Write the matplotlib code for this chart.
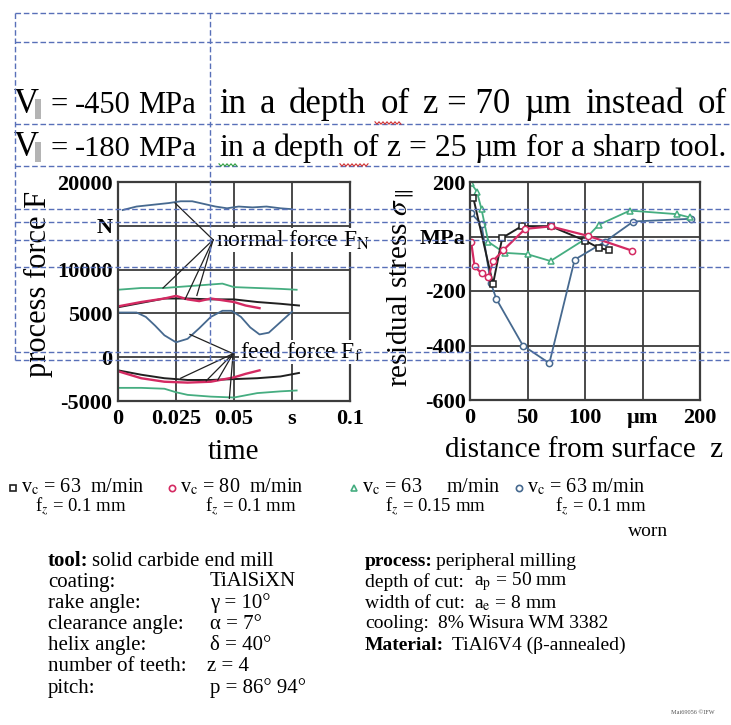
import numpy as np
import matplotlib
matplotlib.use('Agg')
import matplotlib.pyplot as plt
from matplotlib.patches import Rectangle

plt.rcParams['font.family'] = ['Liberation Serif', 'DejaVu Serif']
plt.rcParams['mathtext.fontset'] = 'stix'

# ---- process force over time (left chart), time in s, force in N
t_worn_fn = [0.002, 0.008, 0.015, 0.022, 0.027, 0.032, 0.037, 0.042, 0.047, 0.052, 0.058, 0.064, 0.070, 0.075]
f_worn_fn = [16800, 17200, 17400, 17600, 17800, 17800, 17500, 17200, 17000, 17200, 17100, 17200, 17000, 16900]
t_worn_ff = [0.0, 0.008, 0.012, 0.016, 0.020, 0.025, 0.030, 0.035, 0.040, 0.045, 0.049, 0.053, 0.057, 0.061, 0.065, 0.070, 0.075]
f_worn_ff = [5100, 5100, 4600, 3600, 2500, 1700, 2100, 3300, 4600, 5300, 5300, 4600, 3400, 2600, 2800, 4000, 5200]
t_green_fn = [0.0, 0.01, 0.02, 0.03, 0.04, 0.045, 0.05, 0.06, 0.07, 0.077]
f_green_fn = [7700, 7900, 7900, 8100, 8300, 8400, 8000, 7900, 7800, 7700]
t_red_fn = [0.0, 0.01, 0.02, 0.025, 0.03, 0.035, 0.04, 0.045, 0.05, 0.055, 0.061]
f_red_fn = [5800, 6300, 6700, 7000, 6600, 6400, 6700, 6500, 6300, 5900, 5600]
t_black_fn = [0.0, 0.01, 0.02, 0.03, 0.04, 0.05, 0.06, 0.07, 0.078]
f_black_fn = [5700, 6200, 6700, 6700, 6600, 6600, 6300, 6100, 5900]
t_black_ff = [0.0, 0.01, 0.02, 0.03, 0.04, 0.05, 0.06, 0.07, 0.078]
f_black_ff = [-1500, -2000, -2400, -2600, -2600, -2500, -2400, -2200, -1800]
t_red_ff = [0.0, 0.01, 0.02, 0.03, 0.04, 0.05, 0.055, 0.061]
f_red_ff = [-1600, -2400, -2800, -2900, -2800, -2300, -1900, -1500]
t_green_ff = [0.0, 0.01, 0.02, 0.025, 0.03, 0.04, 0.05, 0.06, 0.07, 0.077]
f_green_ff = [-3500, -3500, -3600, -4000, -4300, -4500, -4600, -4100, -3900, -3800]

# pointer lines of the two labels (anchor, then targets on curves)
fn_anchor = (0.041, 13400)
fn_targets = [(0.0246, 17600), (0.0194, 7900), (0.0289, 6600), (0.034, 7050)]
ff_anchor = (0.0496, 400)
ff_targets = [(0.031, 2600), (0.027, -2400), (0.038, -2700), (0.043, -2600), (0.048, -4700)]

# ---- residual stress over depth (right chart), z in um, stress in MPa
z_black = [3, 20, 28, 45, 70, 100, 112, 121]
s_black = [140, -175, -5, 38, 38, -15, -42, -50]
z_red = [1, 4, 10, 16, 20, 29, 48, 70, 103, 141]
s_red = [-20, -110, -135, -150, -90, -50, 28, 37, 2, -52]
z_green = [1, 6, 10, 16, 30, 50, 70, 100, 112, 139, 180, 191]
s_green = [195, 165, 100, -20, -60, -65, -90, -10, 43, 95, 82, 70]
z_blue = [1, 10, 18, 23, 46, 69, 91, 117, 142, 192]
s_blue = [85, 45, -170, -230, -400, -465, -85, -20, 55, 65]

left_yticks = [-5000, 0, 5000, 10000, 15000, 20000]
left_yticklabels = ['-5000', '0', '5000', '10000', 'N', '20000']
left_xticks = [0, 0.025, 0.05, 0.075, 0.1]
left_xticklabels = ['0', '0.025', '0.05', 's', '0.1']
right_yticks = [-600, -400, -200, 0, 200]
right_yticklabels = ['-600', '-400', '-200', 'MPa', '200']
right_xticks = [0, 50, 100, 150, 200]
right_xticklabels = ['0', '50', '100', 'µm', '200']

legend_top = [r'v$_\mathrm{c}$ = 63  m/min', r'v$_\mathrm{c}$ = 80  m/min',
              r'v$_\mathrm{c}$ = 63     m/min', r'v$_\mathrm{c}$ = 63 m/min']
legend_bot = [r'f$_z$ = 0.1 mm', r'f$_z$ = 0.1 mm', r'f$_z$ = 0.15 mm', r'f$_z$ = 0.1 mm']

tool_keys = ['coating:', 'rake angle:', 'clearance angle:', 'helix angle:', 'number of teeth:', 'pitch:']
tool_vals = ['TiAlSiXN', 'γ = 10°', 'α = 7°', 'δ = 40°', 'z = 4', 'p = 86° 94°']

BLUE = '#46698f'
RED = '#d42a62'
GREEN = '#45ad80'
BLACK = '#202020'
GRIDC = '#3c3c3c'
DASH = '#5870b8'

W, H = 731, 725
fig = plt.figure(figsize=(W / 100, H / 100), dpi=100)


def box(x0, y0, x1, y1):
    return [x0 / W, 1 - y1 / H, (x1 - x0) / W, (y1 - y0) / H]


def style_axes(ax):
    for sp in ax.spines.values():
        sp.set_color(GRIDC)
        sp.set_linewidth(1.6)
    ax.grid(True, color=GRIDC, lw=1.3)
    ax.set_axisbelow(True)
    ax.tick_params(length=0, labelsize=16)
    for lb in ax.get_xticklabels() + ax.get_yticklabels():
        lb.set_fontweight('bold')


# left chart
ax1 = fig.add_axes(box(118, 182, 350, 401))
ax1.set_xlim(0, 0.1)
ax1.set_ylim(-5000, 20000)
ax1.set_xticks(left_xticks, left_xticklabels)
ax1.set_yticks(left_yticks, left_yticklabels)
ax1.tick_params(axis='x', pad=6)
ax1.tick_params(axis='y', pad=4)
style_axes(ax1)
ax1.plot(t_worn_fn, f_worn_fn, color=BLUE, lw=1.3)
ax1.plot(t_worn_ff, f_worn_ff, color=BLUE, lw=1.3)
ax1.plot(t_green_fn, f_green_fn, color=GREEN, lw=1.3)
ax1.plot(t_black_fn, f_black_fn, color=BLACK, lw=1.4)
ax1.plot(t_red_fn, f_red_fn, color=RED, lw=1.7)
ax1.plot(t_green_ff, f_green_ff, color=GREEN, lw=1.3)
ax1.plot(t_black_ff, f_black_ff, color=BLACK, lw=1.4)
ax1.plot(t_red_ff, f_red_ff, color=RED, lw=1.7)
for tx, fy in fn_targets:
    ax1.plot([fn_anchor[0], tx], [fn_anchor[1], fy], color=BLACK, lw=0.9)
for tx, fy in ff_targets:
    ax1.plot([ff_anchor[0], tx], [ff_anchor[1], fy], color=BLACK, lw=0.9)

# right chart
ax2 = fig.add_axes(box(470, 182, 700, 400))
ax2.set_xlim(0, 200)
ax2.set_ylim(-600, 200)
ax2.set_xticks(right_xticks, right_xticklabels)
ax2.set_yticks(right_yticks, right_yticklabels)
ax2.tick_params(axis='x', pad=6)
ax2.tick_params(axis='y', pad=3)
style_axes(ax2)
ax2.plot(z_blue, s_blue, color=BLUE, lw=1.3, marker='o', ms=4.5, mfc='white', mew=1.1)
ax2.plot(z_green, s_green, color=GREEN, lw=1.3, marker='^', ms=4.5, mfc='white', mew=1.1)
ax2.plot(z_black, s_black, color=BLACK, lw=1.4, marker='s', ms=4, mfc='white', mew=1.1)
ax2.plot(z_red, s_red, color=RED, lw=1.6, marker='o', ms=4.5, mfc='white', mew=1.1)

# overlay in pixel coordinates for all free text and the dashed frames
ov = fig.add_axes([0, 0, 1, 1], zorder=10)
ov.set_xlim(0, W)
ov.set_ylim(H, 0)
ov.axis('off')
ov.patch.set_alpha(0)

fig.canvas.draw()
renderer = fig.canvas.get_renderer()


def justify(x0, x1, y, words, size, **kw):
    # place the words so that they fill x0..x1, shrinking only if needed
    ts = [ov.text(x0, y, w, fontsize=size, ha='left', **kw) for w in words]
    ws = [t.get_window_extent(renderer).width for t in ts]
    natural = sum(ws) + 0.25 * size * 1.389 * (len(ws) - 1)
    if natural > x1 - x0:
        k = (x1 - x0) / natural
        for t in ts:
            t.set_fontsize(size * k)
        ws = [t.get_window_extent(renderer).width for t in ts]
    gap = (x1 - x0 - sum(ws)) / max(len(ws) - 1, 1)
    x = x0
    for t, w in zip(ts, ws):
        t.set_x(x)
        x += w + gap
    return ts


lines = [(113, ['=', '-450', 'MPa'], ['in', 'a', 'depth', 'of', 'z = 70', 'µm', 'instead', 'of']),
         (156, ['=', '-180', 'MPa'], ['in', 'a', 'depth', 'of', 'z = 25', 'µm', 'for', 'a', 'sharp', 'tool.'])]
for yb, val, rest in lines:
    ov.text(14, yb, 'V', fontsize=25, va='baseline')
    ov.add_patch(Rectangle((35, yb - 14), 6, 20, color='#b4b4b4', lw=0))
    justify(50, 196, yb, val, 25, va='baseline')
    justify(219, 727, yb, rest, 25, va='baseline')

ov.text(38, 284, 'process force F', rotation=90, fontsize=22, ha='center', va='center')
ov.text(234, 452, 'time', fontsize=21, ha='center', va='center')
ov.text(401, 288, r'residual stress $\sigma_{\parallel}$', rotation=90, fontsize=21, ha='center', va='center')
ov.text(584, 450, 'distance from surface  z', fontsize=21, ha='center', va='center')

lab = dict(fontsize=17, ha='left', va='center',
           bbox=dict(facecolor='white', edgecolor='none', pad=0.5))
ov.text(216, 240, r'normal force F$_\mathrm{N}$', **lab)
ov.text(240, 352, r'feed force F$_\mathrm{f}$', **lab)

# legend
leg_x = [21, 180, 362, 527]
leg_sub_x = [35, 205, 385, 555]
leg_marks = [('s', BLACK), ('o', RED), ('^', GREEN), ('o', BLUE)]
for x, xs, (mk, c), t1, t2 in zip(leg_x, leg_sub_x, leg_marks, legend_top, legend_bot):
    ov.plot([x - 8], [488], marker=mk, ms=4.5, mfc='white', mec=c, mew=1.2, ls='none')
    ov.text(x, 487, t1, fontsize=14.5, ha='left', va='center')
    ov.text(xs, 507, t2, fontsize=13.5, ha='left', va='center')
ov.text(628, 531, 'worn', fontsize=14, ha='left', va='center')

# tool / process block
info = dict(fontsize=15, ha='left', va='center')
ov.text(48, 561, 'tool:', fontweight='bold', **info)
ov.text(92, 561, 'solid carbide end mill', **info)
for i, (k, v) in enumerate(zip(tool_keys, tool_vals)):
    y = 582 + 21.2 * i
    ov.text(48, y, k, **info)
    ov.text(207 if k.startswith('number') else 210, y, v, **info)
info2 = dict(fontsize=14, ha='left', va='center')
ov.text(365, 561, 'process:', fontweight='bold', **info2)
ov.text(436, 561, 'peripheral milling', **info2)
ov.text(365, 582, 'depth of cut:', **info2)
ov.text(474, 582, r'a$_\mathrm{p}$ = 50 mm', **info2)
ov.text(365, 603, 'width of cut:', **info2)
ov.text(474, 603, r'a$_\mathrm{e}$ = 8 mm', **info2)
ov.text(365, 624, 'cooling:', **info2)
ov.text(438, 624, '8% Wisura WM 3382', **info2)
ov.text(365, 645, 'Material:', fontweight='bold', **info2)
ov.text(452, 645, 'TiAl6V4 (β-annealed)', **info2)
ov.text(715, 713, 'Mai69056 ©IFW', fontsize=4.5, ha='right', va='center', color='#555555')

# dashed frames of the slide text boxes
for y in [13, 42, 124, 166, 209, 222, 240, 267, 352, 360]:
    ov.plot([15, W], [y, y], color=DASH, lw=1.0, ls=(0, (4, 2)), zorder=5)
for x in [15, 210]:
    ov.plot([x, x], [13, 360], color=DASH, lw=1.0, ls=(0, (4, 2)), zorder=5)

# spell-check squiggles
for x0, x1, y, c in [(375, 402, 123, '#d03030'), (219, 238, 165, '#30a040'), (340, 368, 165, '#d03030')]:
    xs = np.arange(x0, x1 + 1, 2)
    ys = y + np.where(np.arange(len(xs)) % 2 == 0, -1.2, 1.2)
    ov.plot(xs, ys, color=c, lw=0.8, zorder=6)

fig.savefig('out.png', dpi=100)
